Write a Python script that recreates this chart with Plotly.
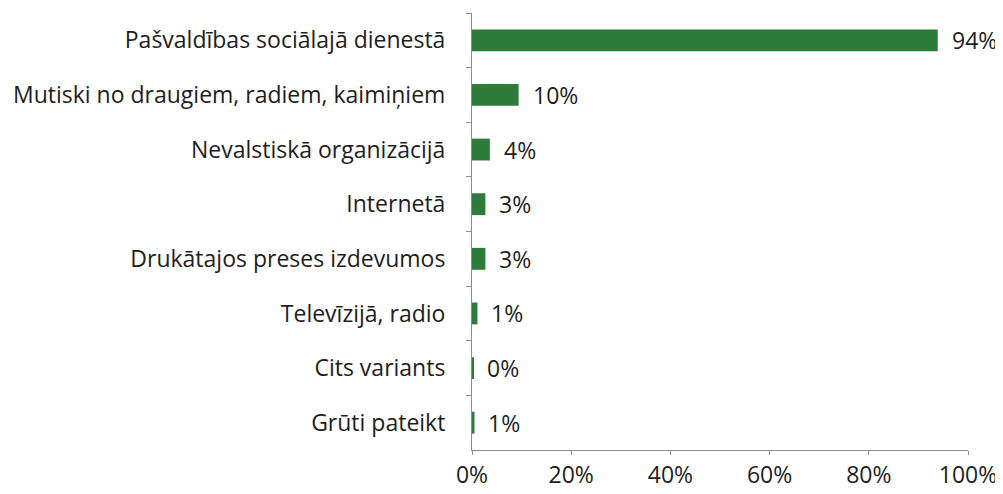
import plotly.graph_objects as go

categories = [
    "Pašvaldības sociālajā dienestā",
    "Mutiski no draugiem, radiem, kaimiņiem",
    "Nevalstiskā organizācijā",
    "Internetā",
    "Drukātajos preses izdevumos",
    "Televīzijā, radio",
    "Cits variants",
    "Grūti pateikt",
]
values = [93.9, 9.4, 3.6, 2.7, 2.7, 1.1, 0.3, 0.5]
value_labels = ["94%", "10%", "4%", "3%", "3%", "1%", "0%", "1%"]
x_ticks = [0, 20, 40, 60, 80, 100]
x_tick_labels = ["0%", "20%", "40%", "60%", "80%", "100%"]

FONT = "Open Sans"
FS = 23
TXT = "#1e1e1e"
AX = "#8c8c8c"

fig = go.Figure()
fig.add_trace(go.Bar(
    y=categories, x=values, orientation="h",
    marker=dict(color="#2f7b3b", line=dict(width=0)),
    hoverinfo="skip",
))
for c, v, t in zip(categories, values, value_labels):
    fig.add_annotation(x=v, y=c, text=t, showarrow=False, xanchor="left",
                       xshift=12, font=dict(family=FONT, size=FS, color=TXT))

# the page has an 8px body margin, so the figure is drawn 8px smaller
fig.update_layout(
    width=995, height=486,
    margin=dict(l=464, r=35, t=5, b=44),
    paper_bgcolor="white", plot_bgcolor="white",
    bargap=0.6, showlegend=False,
    font=dict(family=FONT, size=FS, color=TXT),
)
fig.update_yaxes(
    categoryorder="array", categoryarray=categories, autorange="reversed",
    showline=True, linecolor=AX, linewidth=1,
    ticks="outside", ticklen=5, tickcolor=AX, tickson="boundaries",
    ticklabelstandoff=21, showgrid=False, zeroline=False, automargin=False,
)
fig.update_xaxes(
    range=[0, 100], tickvals=x_ticks, ticktext=x_tick_labels,
    showline=True, linecolor=AX, linewidth=1,
    ticks="outside", ticklen=4, tickcolor=AX,
    showgrid=False, zeroline=False, ticklabelstandoff=0, automargin=False,
)
fig.write_html("out.html")
